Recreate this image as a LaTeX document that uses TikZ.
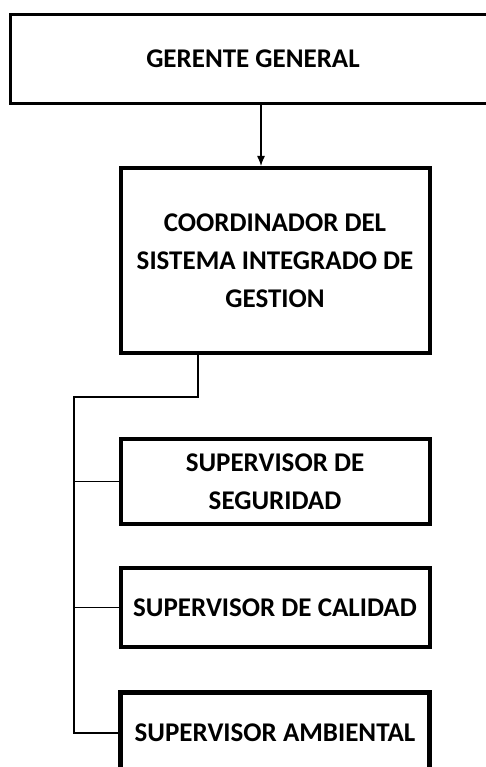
\documentclass[tikz,border=0pt]{standalone}
\usepackage{fontspec}
\setmainfont{Carlito}
\usepackage{tikz}
\usetikzlibrary{positioning,arrows,arrows.meta,calc}
\tikzset{cargo/.style={
    draw, rectangle, line width=4pt, align=center, inner sep=0pt,
    font=\bfseries\fontsize{27}{38}\selectfont
    },
    enlace/.style={line width=1.3pt}
}

\begin{document}
\begin{tikzpicture}[>={Latex[length=10pt,width=8pt]}, x=1pt, y=-1pt]
	\useasboundingbox (0,0) rectangle (486,767);
	\clip (0,0) rectangle (486,767);
	\node[cargo,line width=3pt,minimum width=486pt,minimum height=89pt] (G0) at (253,59) {GERENTE GENERAL};
	\node[cargo,minimum width=309pt,minimum height=185pt] (C0) at (275,260.5) {COORDINADOR DEL\\SISTEMA INTEGRADO DE\\GESTION};
	\node[cargo,minimum width=309pt,minimum height=85pt] (S1) at (275,481.5) {SUPERVISOR DE\\SEGURIDAD};
	\node[cargo,minimum width=309pt,minimum height=79.5pt] (S2) at (275,607.7) {SUPERVISOR DE CALIDAD};
	\node[cargo,line width=5pt,minimum width=309pt,minimum height=82pt] (S3) at (275,733) {SUPERVISOR AMBIENTAL};
	\coordinate (J) at (74,397);
	\draw [->,enlace] ([xshift=8pt]G0.south) -- ([xshift=8pt]G0.south |- C0.north);
	\draw [enlace] ([xshift=-77pt]C0.south) |- (J) |- (S3.west);
	\draw [enlace] (J |- S1.west) -- (S1.west);
	\draw [enlace] (J |- S2.west) -- (S2.west);
\end{tikzpicture}
\end{document}
